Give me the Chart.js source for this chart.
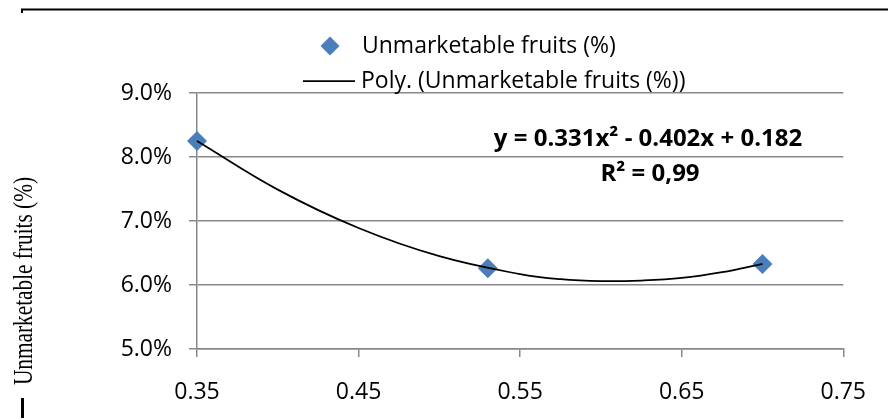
<!DOCTYPE html>
<html>
<head>
<meta charset="utf-8">
<script src="https://cdn.jsdelivr.net/npm/chart.js"></script>
<style>
	body { margin: 0; background: #fff; }
	canvas { display: block; }
</style>
</head>
<body>
<canvas id="fruitChart" width="888" height="420"></canvas>
<script>
// values
var seriesName = "Unmarketable fruits (%)";
var trendName = "Poly. (Unmarketable fruits (%))";
var pointX = [0.35, 0.53, 0.70];
var pointY = [0.0825, 0.0626, 0.0633];
var trendX = [0.35, 0.40, 0.45, 0.50, 0.55, 0.575, 0.60, 0.625, 0.65, 0.675, 0.70];
var trendY = [0.0825, 0.0749, 0.0689, 0.0645, 0.0617, 0.0609, 0.0606, 0.0607, 0.0611, 0.0620, 0.0633];
var xTicks = [0.35, 0.45, 0.55, 0.65, 0.75];
var yTicks = [0.05, 0.06, 0.07, 0.08, 0.09];
var equationLines = ["y = 0.331x\u00B2 - 0.402x + 0.182", "R\u00B2 = 0,99"];
var axisTitle = "Unmarketable fruits (%)";

var pointColor = "#4A7EBB";
var gridColor = "#888888";

function toXY(xs, ys) {
	var out = [];
	for (var i in xs) {
		out.push({ x : xs[i], y : ys[i] });
	}
	return out;
}

// legend, equation, axis title and the page rules around the chart
var extrasPlugin = {
	id : "extras",
	afterDraw : function(chart) {
		var ctx = chart.ctx;
		ctx.save();

		// top rule
		ctx.strokeStyle = "#000";
		ctx.lineWidth = 2;
		ctx.beginPath();
		ctx.moveTo(22, 13);
		ctx.lineTo(22, 9.5);
		ctx.lineTo(888, 9.5);
		ctx.stroke();

		// small dash bottom left
		ctx.lineWidth = 3;
		ctx.beginPath();
		ctx.moveTo(22.5, 398);
		ctx.lineTo(22.5, 418);
		ctx.stroke();

		// legend
		ctx.fillStyle = pointColor;
		ctx.beginPath();
		ctx.moveTo(330, 36.5);
		ctx.lineTo(339.5, 46);
		ctx.lineTo(330, 55.5);
		ctx.lineTo(320.5, 46);
		ctx.closePath();
		ctx.fill();

		ctx.strokeStyle = "#000";
		ctx.lineWidth = 1.75;
		ctx.beginPath();
		ctx.moveTo(303, 81);
		ctx.lineTo(355, 81);
		ctx.stroke();

		ctx.fillStyle = "#000";
		ctx.font = "23px 'Open Sans'";
		ctx.textAlign = "left";
		ctx.textBaseline = "alphabetic";
		ctx.fillText(seriesName, 362, 53);
		ctx.fillText(trendName, 361, 88);

		// trend equation
		ctx.font = "bold 24px 'Open Sans'";
		ctx.textAlign = "center";
		ctx.fillText(equationLines[0], 648, 146);
		ctx.fillText(equationLines[1], 650, 181);

		// y axis title, serif, rotated
		ctx.translate(32, 281);
		ctx.rotate(-Math.PI / 2);
		ctx.font = "22px 'Liberation Serif'";
		var w = ctx.measureText(axisTitle).width;
		ctx.scale(208 / w, 1.25);
		ctx.fillText(axisTitle, 0, 0);

		ctx.restore();
	}
};

var config = {
	type : "scatter",
	data : {
		datasets : [ {
			label : trendName,
			data : toXY(trendX, trendY),
			showLine : true,
			borderColor : "#000",
			borderWidth : 1.75,
			pointRadius : 0,
			tension : 0.4,
			clip : false,
			order : 0
		}, {
			label : seriesName,
			data : toXY(pointX, pointY),
			pointStyle : "rectRot",
			pointRadius : 10,
			pointBackgroundColor : pointColor,
			pointBorderWidth : 0,
			clip : false,
			order : 1
		} ]
	},
	options : {
		responsive : false,
		animation : false,
		layout : {
			padding : { top : 93, right : 44, bottom : 0, left : 0 }
		},
		plugins : {
			legend : { display : false },
			tooltip : { enabled : false }
		},
		scales : {
			x : {
				type : "linear",
				min : 0.35,
				max : 0.75,
				afterBuildTicks : function(scale) {
					scale.ticks = xTicks.map(function(v) { return { value : v }; });
				},
				afterFit : function(scale) {
					scale.height = 71;
				},
				grid : {
					drawOnChartArea : false,
					drawTicks : true,
					tickLength : 8,
					color : gridColor,
					lineWidth : 1.5
				},
				border : { color : gridColor, width : 1.5 },
				ticks : {
					padding : 22,
					color : "#000",
					maxRotation : 0,
					autoSkip : false,
					font : { family : "Open Sans", size : 23 },
					callback : function(v) { return v.toFixed(2); }
				}
			},
			y : {
				min : 0.05,
				max : 0.09,
				afterBuildTicks : function(scale) {
					scale.ticks = yTicks.map(function(v) { return { value : v }; });
				},
				afterFit : function(scale) {
					scale.width = 197;
				},
				grid : {
					tickLength : 8,
					color : gridColor,
					lineWidth : 1.5
				},
				border : { color : gridColor, width : 1.5 },
				ticks : {
					padding : 17,
					color : "#000",
					font : { family : "Open Sans", size : 23 },
					callback : function(v) { return (v * 100).toFixed(1) + "%"; }
				}
			}
		}
	},
	plugins : [ extrasPlugin ]
};

var ctx = document.getElementById("fruitChart").getContext("2d");
new Chart(ctx, config);
</script>
</body>
</html>
